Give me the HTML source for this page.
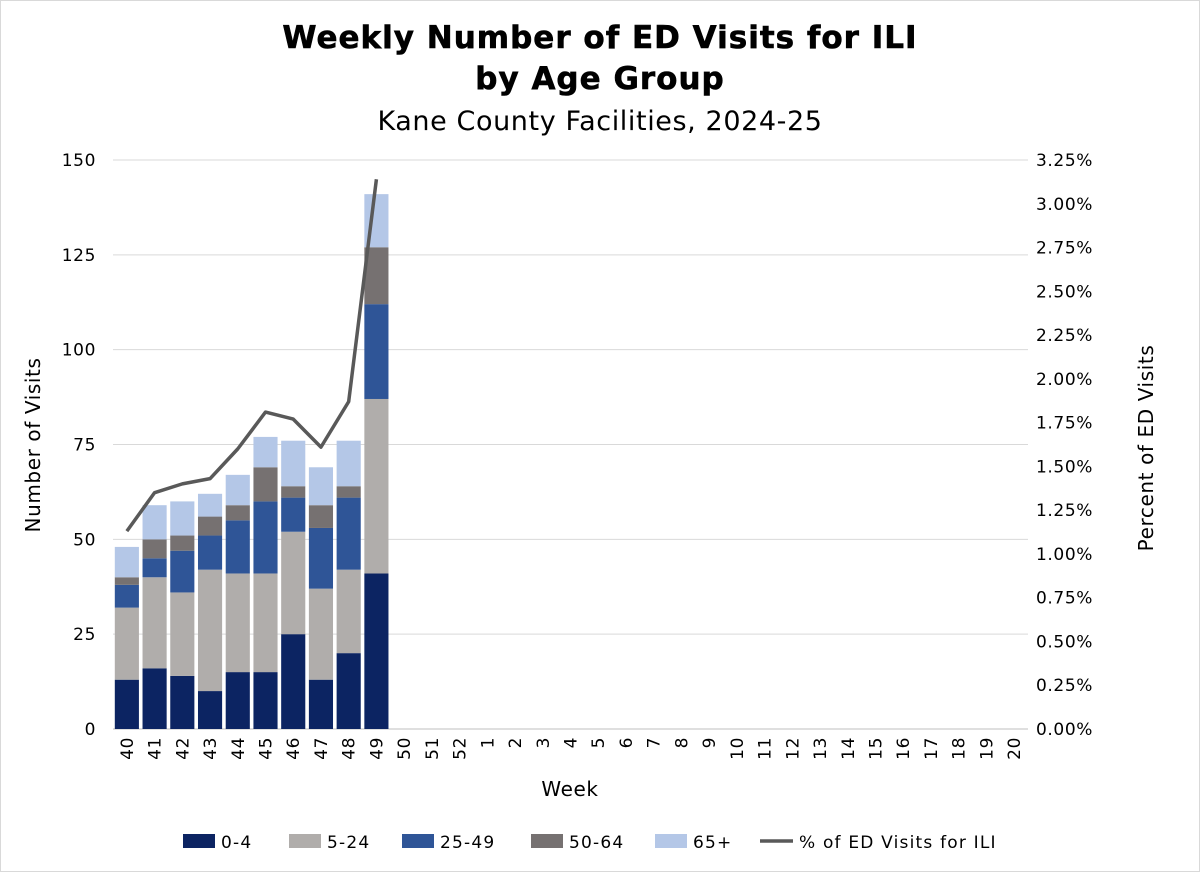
<!DOCTYPE html>
<html><head><meta charset="utf-8"><style>
body{margin:0;background:#fff;}
svg{display:block;font-family:"DejaVu Sans","Liberation Sans",sans-serif;}
</style></head><body>
<svg id="chart" width="1200" height="872">
<rect x="0.5" y="0.5" width="1199" height="871" fill="#fff" stroke="#d9d9d9"/>
<text x="600" y="48" text-anchor="middle" font-size="31" font-weight="bold" fill="#000" letter-spacing="1" stroke="#000" stroke-width="0.6">Weekly Number of ED Visits for ILI</text>
<text x="600" y="89" text-anchor="middle" font-size="31" font-weight="bold" fill="#000" letter-spacing="1" stroke="#000" stroke-width="0.6">by Age Group</text>
<text x="600" y="130" text-anchor="middle" font-size="27" fill="#000" letter-spacing="0.6">Kane County Facilities, 2024-25</text>
<g id="grid"></g><g id="bars"></g><g id="line"></g><g id="axes"></g><g id="legend"></g>
<text transform="translate(40,445) rotate(-90)" text-anchor="middle" font-size="20" letter-spacing="0.6" fill="#000">Number of Visits</text>
<text transform="translate(1153,448) rotate(-90)" text-anchor="middle" font-size="20" letter-spacing="0.6" fill="#000">Percent of ED Visits</text>
<text x="570" y="796" text-anchor="middle" font-size="20" letter-spacing="0.6" fill="#000">Week</text>
</svg>
<script>
const weeks=["40","41","42","43","44","45","46","47","48","49","50","51","52","1","2","3","4","5","6","7","8","9","10","11","12","13","14","15","16","17","18","19","20"];
const age0_4=[13,16,14,10,15,15,25,13,20,41];
const age5_24=[19,24,22,32,26,26,27,24,22,46];
const age25_49=[6,5,11,9,14,19,9,16,19,25];
const age50_64=[2,5,4,5,4,9,3,6,3,15];
const age65p=[8,9,9,6,8,8,12,10,12,14];
const pctILI=[1.13,1.35,1.40,1.43,1.60,1.81,1.77,1.61,1.87,3.14];
const yTicks=[0,25,50,75,100,125,150];
const y2Ticks=["0.00%","0.25%","0.50%","0.75%","1.00%","1.25%","1.50%","1.75%","2.00%","2.25%","2.50%","2.75%","3.00%","3.25%"];
const seriesNames=["0-4","5-24","25-49","50-64","65+"];
const colors=["#0c2462","#b0adab","#2f5597","#767171","#b4c7e7"];
const X0=113,X1=1028,Y0=729,Y1=160,NS="http://www.w3.org/2000/svg";
const step=(X1-X0)/weeks.length;
const y=v=>Y0-(v/150)*(Y0-Y1);
const y2=p=>Y0-(p/3.25)*(Y0-Y1);
const xc=i=>X0+step*(i+0.5);
function mk(t,a,p){const e=document.createElementNS(NS,t);for(const k in a)e.setAttribute(k,a[k]);p.appendChild(e);return e;}
const G=document.getElementById('grid'),B=document.getElementById('bars'),L=document.getElementById('line'),A=document.getElementById('axes'),LG=document.getElementById('legend');
yTicks.forEach(v=>{
 const l=mk('line',{x1:X0,x2:X1,y1:y(v),y2:y(v),stroke:v?'#d9d9d9':'#bfbfbf','stroke-width':1},G);
 
 
 const t=mk('text',{x:X0-17,y:y(v)+6,'text-anchor':'end','font-size':17,'letter-spacing':0.6,fill:'#000'},A);t.textContent=v;
 
 
});
y2Ticks.forEach((s,i)=>{
 const t=mk('text',{x:X1+8,y:y2(i*0.25)+6,'font-size':17,'letter-spacing':0.6,fill:'#000'},A);t.textContent=s;
 
 
});
weeks.forEach((w,i)=>{
 const t=mk('text',{transform:`translate(${xc(i)+6},${Y0+8}) rotate(-90)`,'text-anchor':'end','font-size':17,'letter-spacing':0.6,fill:'#000'},A);t.textContent=w;
 
 
});
const series=[age0_4,age5_24,age25_49,age50_64,age65p];
const bw=step*0.87;
age0_4.forEach((_,i)=>{
 let base=0;
 series.forEach((s,k)=>{
  const r=mk('rect',{x:xc(i)-bw/2,y:y(base+s[i]),width:bw,height:y(base)-y(base+s[i]),fill:colors[k]},B);
  
  
  base+=s[i];
 });
});
const pl=mk('polyline',{points:pctILI.map((p,i)=>xc(i)+','+y2(p)).join(' '),fill:'none',stroke:'#595959','stroke-width':3.5,'stroke-linejoin':'round'},L);


const lx=[183,289,402,531,655];
seriesNames.forEach((n,k)=>{
 const r=mk('rect',{x:lx[k],y:834,width:32,height:14,fill:colors[k]},LG);
 
 
 const t=mk('text',{x:lx[k]+38,y:848,'font-size':17,'letter-spacing':1.2,fill:'#000'},LG);t.textContent=n;
 
 
});
const ll=mk('line',{x1:760,x2:793,y1:841,y2:841,stroke:'#595959','stroke-width':3.5},LG);


const lt=mk('text',{x:799,y:848,'font-size':17,'letter-spacing':1.2,fill:'#000'},LG);lt.textContent='% of ED Visits for ILI';


</script>
</body></html>
